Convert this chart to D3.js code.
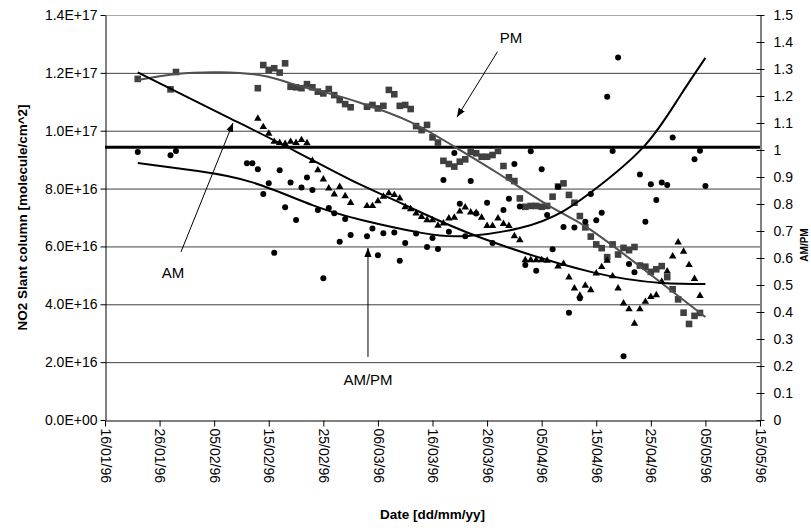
<!DOCTYPE html>
<html><head><meta charset="utf-8">
<script src="https://cdn.jsdelivr.net/npm/d3@7"></script>
<style>
body{margin:0;background:#fff;}
svg{display:block;font-family:'Liberation Sans',Arial,sans-serif;}
</style></head><body>
<svg id="chart" width="811" height="528"></svg>
<script>
// values; NO2 columns in units of 1E16 molecule/cm^2
const pm=[['22/01',11.79],['28/01',11.43],['29/01',12.03],['13/02',11.47],['14/02',12.27],['15/02',12.10],['16/02',12.16],['17/02',12.01],['18/02',12.33],['19/02',11.52],['20/02',11.50],['21/02',11.47],['22/02',11.61],['23/02',11.50],['24/02',11.35],['25/02',11.29],['26/02',11.44],['27/02',11.23],['28/02',11.06],['29/02',10.92],['01/03',10.81],['04/03',10.83],['05/03',10.89],['06/03',10.77],['07/03',10.86],['08/03',11.41],['09/03',11.26],['10/03',10.86],['11/03',10.89],['12/03',10.75],['13/03',10.16],['14/03',10.02],['15/03',10.20],['16/03',9.77],['17/03',9.59],['18/03',8.96],['19/03',8.85],['20/03',8.76],['21/03',8.93],['22/03',9.01],['23/03',9.27],['24/03',9.22],['25/03',9.10],['26/03',9.10],['27/03',9.16],['28/03',9.30],['29/03',8.78],['30/03',8.39],['31/03',8.26],['01/04',7.66],['02/04',7.37],['03/04',7.40],['04/04',7.40],['05/04',7.37],['06/04',7.40],['07/04',7.72],['08/04',8.07],['09/04',8.18],['10/04',7.78],['11/04',7.51],['12/04',7.05],['13/04',6.66],['14/04',6.34],['15/04',6.07],['16/04',5.94],['17/04',5.63],['18/04',6.07],['19/04',5.72],['20/04',5.95],['21/04',5.87],['22/04',5.98],['23/04',5.34],['24/04',5.30],['25/04',5.12],['26/04',5.21],['27/04',5.32],['28/04',4.94],['29/04',4.52],['30/04',4.17],['01/05',3.71],['02/05',3.32],['03/05',3.60],['04/05',3.70]];
const am=[['13/02',10.42],['14/02',10.13],['15/02',9.90],['16/02',9.62],['17/02',9.58],['18/02',9.55],['19/02',9.62],['20/02',9.58],['21/02',9.68],['22/02',9.57],['23/02',8.96],['24/02',8.64],['25/02',8.32],['26/02',8.01],['27/02',7.80],['28/02',8.06],['29/02',7.74],['01/03',7.51],['04/03',7.40],['05/03',7.40],['06/03',7.57],['07/03',7.72],['08/03',7.84],['09/03',7.78],['10/03',7.66],['11/03',7.36],['12/03',7.29],['13/03',7.14],['14/03',7.02],['15/03',6.91],['16/03',6.91],['17/03',6.72],['18/03',6.80],['19/03',6.97],['20/03',7.00],['21/03',7.21],['22/03',7.35],['23/03',7.18],['24/03',7.16],['25/03',7.00],['26/03',6.71],['27/03',6.71],['28/03',6.97],['29/03',6.78],['30/03',6.71],['31/03',6.36],['01/04',6.22],['02/04',5.53],['03/04',5.53],['04/04',5.53],['05/04',5.53],['06/04',5.51],['08/04',5.31],['09/04',5.40],['10/04',4.93],['11/04',4.55],['12/04',4.30],['13/04',4.65],['14/04',4.49],['15/04',5.07],['16/04',5.29],['17/04',5.51],['18/04',4.97],['19/04',4.55],['20/04',4.03],['21/04',3.83],['22/04',3.33],['23/04',3.83],['24/04',4.09],['25/04',4.26],['26/04',4.32],['27/04',4.78],['28/04',5.14],['29/04',5.66],['30/04',6.14],['01/05',5.82],['02/05',5.36],['03/05',4.88],['04/05',4.29]];
const ratio=[['22/01',0.993],['28/01',0.981],['29/01',0.996],['11/02',0.951],['12/02',0.951],['13/02',0.929],['14/02',0.837],['15/02',0.877],['16/02',0.619],['17/02',0.925],['18/02',0.788],['19/02',0.880],['20/02',0.741],['21/02',0.861],['22/02',0.898],['23/02',0.852],['24/02',0.778],['25/02',0.525],['26/02',0.785],['27/02',0.766],['28/02',0.660],['29/02',0.744],['01/03',0.685],['04/03',0.681],['05/03',0.709],['06/03',0.610],['07/03',0.692],['09/03',0.694],['10/03',0.590],['11/03',0.656],['13/03',0.691],['15/03',0.641],['16/03',0.674],['17/03',0.633],['18/03',0.889],['19/03',0.697],['20/03',0.989],['21/03',0.801],['22/03',0.681],['23/03',0.885],['24/03',0.765],['26/03',0.805],['27/03',0.656],['29/03',0.778],['30/03',0.819],['31/03',0.948],['01/04',0.791],['02/04',0.574],['03/04',0.995],['04/04',0.553],['05/04',0.929],['06/04',0.759],['07/04',0.632],['08/04',0.864],['09/04',0.715],['10/04',0.397],['11/04',0.713],['12/04',0.451],['13/04',0.734],['14/04',0.837],['15/04',0.740],['16/04',0.768],['17/04',1.197],['18/04',0.996],['19/04',1.343],['20/04',0.236],['21/04',0.578],['22/04',0.547],['23/04',0.909],['24/04',0.734],['25/04',0.873],['26/04',0.815],['27/04',0.880],['28/04',0.870],['29/04',1.046],['03/05',0.966],['04/05',0.997],['05/05',0.867]];

// trend curves
const pmTrend=[['22/01',11.75],['29/01',11.96],['06/02',12.02],['14/02',11.90],['20/02',11.58],['26/02',11.29],['03/03',10.95],['12/03',10.30],['20/03',9.45],['28/03',8.53],['07/04',7.33],['14/04',6.57],['27/04',4.73],['05/05',3.56]];
const amTrend=[['22/01',12.02],['08/02',10.42],['20/02',9.28],['01/03',8.30],['12/03',7.34],['25/03',6.29],['14/04',5.12],['27/04',4.74],['05/05',4.70]];
const ratioTrend=[['22/01',0.952],['02/02',0.922],['12/02',0.880],['23/02',0.796],['03/03',0.741],['14/03',0.693],['22/03',0.681],['01/04',0.711],['09/04',0.774],['16/04',0.874],['24/04',1.019],['30/04',1.189],['05/05',1.341]];
const refLevel=1.01;

const dateTicks=['16/01','26/01','05/02','15/02','25/02','06/03','16/03','26/03','05/04','15/04','25/04','05/05','15/05'];
const leftTicks=[0,2,4,6,8,10,12,14];
const rightTicks=d3.range(0,16).map(i=>i/10);

// annotations: [day offset from 16/01, value in 1E16]
const notes=[
  {text:'AM',at:[12.46,4.91],from:[13.92,5.81],to:[23.45,10.27]},
  {text:'PM',at:[74.38,13.03],from:[71.9,12.73],to:[64.49,10.47]},
  {text:'AM/PM',at:[48.18,1.21],from:[48.18,2.18],to:[48.18,5.95]}
];

const parse=d3.utcParse('%d/%m/%Y');
const toDate=s=>parse(s+'/1996');
const rows=a=>a.map(([d,v])=>({date:toDate(d),v}));

const L=105,R=760,T=15,B=420;
const svg=d3.select('#chart');
const x=d3.scaleUtc().domain([toDate('16/01'),toDate('15/05')]).range([L,R]);
const yL=d3.scaleLinear().domain([0,14]).range([B,T]);
const yR=d3.scaleLinear().domain([0,1.5]).range([B,T]);
const t0=toDate('16/01').getTime();
const dayX=n=>x(new Date(t0+n*864e5));

const sci=v=>d3.format('.1e')(v*1e16).toUpperCase().replace(/E([+-])(\d)$/,'E$10$2');

// grid
svg.append('g').selectAll('line').data(leftTicks.filter(v=>v>0)).join('line')
  .attr('x1',L).attr('x2',R).attr('y1',d=>yL(d)+0.5).attr('y2',d=>yL(d)+0.5)
  .attr('stroke',d=>d===14?'#a8a8a8':'#404040').attr('stroke-width',1);

// axes
const gL=svg.append('g').attr('transform',`translate(${L+0.5},0)`)
  .call(d3.axisLeft(yL).tickValues(leftTicks).tickSize(5).tickSizeOuter(0).tickPadding(3).tickFormat(sci));
const gR=svg.append('g').attr('transform',`translate(${R+0.5},0)`)
  .call(d3.axisRight(yR).tickValues(rightTicks).tickSize(4).tickSizeOuter(0).tickPadding(9).tickFormat(d=>String(+d.toFixed(1))));
gR.selectAll('.tick line').attr('x1',-4);
const gB=svg.append('g').attr('transform',`translate(0,${B+0.5})`)
  .call(d3.axisBottom(x).tickValues(dateTicks.map(toDate)).tickSize(6).tickSizeOuter(0).tickFormat(d3.utcFormat('%d/%m/%y')));
gB.selectAll('.tick text').attr('transform','rotate(90)').attr('x',8).attr('y',0).attr('dy','0.35em').attr('text-anchor','start');
[gL,gR,gB].forEach(g=>{
  g.attr('font-family',null).attr('font-size',14);
  g.selectAll('.domain,.tick line').attr('stroke','#000');
  g.selectAll('.tick text').attr('fill','#000');
});

// AM/PM = 1 reference
svg.append('line').attr('x1',L).attr('x2',R).attr('y1',yR(refLevel)).attr('y2',yR(refLevel))
  .attr('stroke','#000').attr('stroke-width',3);

// markers
svg.append('g').selectAll('rect').data(rows(pm)).join('rect')
  .attr('x',d=>x(d.date)-3.3).attr('y',d=>yL(d.v)-3.3).attr('width',6.6).attr('height',6.6).attr('fill','#404040');
const tri=d3.symbol().type(d3.symbolTriangle).size(24);
svg.append('g').selectAll('path').data(rows(am)).join('path')
  .attr('d',tri).attr('transform',d=>`translate(${x(d.date)},${yL(d.v)})`).attr('fill','#000');
svg.append('g').selectAll('circle').data(rows(ratio)).join('circle')
  .attr('cx',d=>x(d.date)).attr('cy',d=>yR(d.v)).attr('r',3).attr('fill','#000');

// trends
const lineL=d3.line().x(d=>x(d.date)).y(d=>yL(d.v)).curve(d3.curveNatural);
const lineR=d3.line().x(d=>x(d.date)).y(d=>yR(d.v)).curve(d3.curveNatural);
svg.append('path').attr('d',lineL(rows(pmTrend))).attr('fill','none').attr('stroke','#505050').attr('stroke-width',2);
svg.append('path').attr('d',lineL(rows(amTrend))).attr('fill','none').attr('stroke','#000').attr('stroke-width',2);
svg.append('path').attr('d',lineR(rows(ratioTrend))).attr('fill','none').attr('stroke','#000').attr('stroke-width',2);

// annotations
svg.append('defs').append('marker').attr('id','ah').attr('viewBox','0 0 10 8').attr('refX',10).attr('refY',4)
  .attr('markerWidth',9).attr('markerHeight',7.2).attr('markerUnits','userSpaceOnUse').attr('orient','auto')
  .append('path').attr('d','M0,0L10,4L0,8Z').attr('fill','#000');
const gN=svg.append('g');
notes.forEach(n=>{
  gN.append('line').attr('x1',dayX(n.from[0])).attr('y1',yL(n.from[1])).attr('x2',dayX(n.to[0])).attr('y2',yL(n.to[1]))
    .attr('stroke','#000').attr('stroke-width',1).attr('marker-end','url(#ah)');
  gN.append('text').attr('x',dayX(n.at[0])).attr('y',yL(n.at[1])).attr('text-anchor','middle')
    .attr('font-size',15).text(n.text);
});

// titles
svg.append('text').attr('transform',`translate(27,${(T+B)/2}) rotate(-90)`).attr('text-anchor','middle')
  .attr('font-size',13.5).attr('font-weight','bold').text('NO2 Slant column [molecule/cm^2]');
svg.append('text').attr('x',(L+R)/2).attr('y',519).attr('text-anchor','middle')
  .attr('font-size',13.5).attr('font-weight','bold').text('Date [dd/mm/yy]');
svg.append('text').attr('transform',`translate(808,245) rotate(-90)`).attr('text-anchor','middle')
  .attr('font-size',10).attr('font-weight','bold').text('AM/PM');
</script></body></html>
